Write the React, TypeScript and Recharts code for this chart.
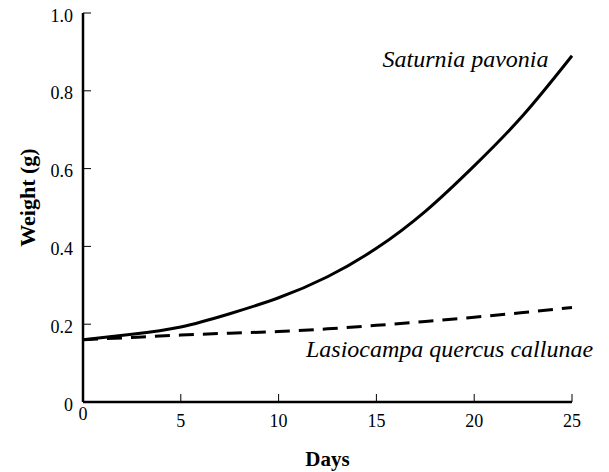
import React from "react";
import { LineChart, Line, XAxis, YAxis, ReferenceDot, Label } from "recharts";

// Days
const days = [0, 2.5, 5, 7.5, 10, 12.5, 15, 17.5, 20, 22.5, 25];
// Saturnia pavonia weight (g)
const saturnia = [0.16, 0.174, 0.193, 0.227, 0.268, 0.322, 0.395, 0.49, 0.607, 0.737, 0.89];
// Lasiocampa quercus callunae weight (g)
const lasiocampa = [0.16, 0.166, 0.172, 0.177, 0.181, 0.188, 0.197, 0.207, 0.218, 0.23, 0.243];

const xTicks = [0, 5, 10, 15, 20, 25];
const yTicks = [0, 0.2, 0.4, 0.6, 0.8, 1.0];
const yTickLabels = ["0", "0.2", "0.4", "0.6", "0.8", "1.0"];

// Series name annotations: [name, day, weight, anchor]
const seriesLabels: [string, number, number, "start" | "end"][] = [
  ["Saturnia pavonia", 23.8, 0.86, "end"],
  ["Lasiocampa quercus callunae", 11.4, 0.116, "start"],
];

const data = days.map((d, i) => ({ day: d, sp: saturnia[i], lq: lasiocampa[i] }));

const FONT = "Liberation Serif, Times New Roman, Tinos, DejaVu Serif, serif";

const XTick = (props: any) => {
  const { x, y, payload } = props;
  const v = payload.value;
  return (
    <text x={x} y={y} dy={v === 0 ? 6 : 13} textAnchor="middle" style={{ fontFamily: FONT, fontSize: 18 }} fill="#000">
      {String(v)}
    </text>
  );
};

const YTick = (props: any) => {
  const { x, y, payload } = props;
  const idx = yTicks.findIndex((t) => Math.abs(t - payload.value) < 1e-9);
  return (
    <text x={x} y={y} dy={8.5} textAnchor="end" style={{ fontFamily: FONT, fontSize: 18 }} fill="#000">
      {idx >= 0 ? yTickLabels[idx] : String(payload.value)}
    </text>
  );
};

export default function App() {
  return (
    <div style={{ position: "absolute", left: 0, top: 0, background: "#fff", fontFamily: FONT }}>
      <LineChart
        width={609}
        height={472}
        data={data}
        margin={{ top: 13, right: 37, bottom: 40, left: 0 }}
        style={{ fontFamily: FONT }}
      >
        <XAxis
          dataKey="day"
          type="number"
          domain={[0, 25]}
          ticks={xTicks}
          height={30}
          tickSize={-8}
          tickMargin={20}
          tick={<XTick />}
          axisLine={{ stroke: "#000", strokeWidth: 2.5 }}
          tickLine={{ stroke: "#000", strokeWidth: 1 }}
        >
          <Label
            content={(p: any) => {
              const vb = p.viewBox || {};
              const cx = (vb.x || 0) + (vb.width || 0) / 2;
              const cy = (vb.y || 0) + (vb.height || 0) + 34;
              return (
                <text
                  x={cx}
                  y={cy}
                  textAnchor="middle"
                  style={{ fontFamily: FONT, fontSize: 21, fontWeight: "bold" }}
                  fill="#000"
                >
                  Days
                </text>
              );
            }}
          />
        </XAxis>
        <YAxis
          type="number"
          domain={[0, 1]}
          ticks={yTicks}
          width={83}
          tickSize={-8}
          tickMargin={18}
          tick={<YTick />}
          axisLine={{ stroke: "#000", strokeWidth: 2.5 }}
          tickLine={{ stroke: "#000", strokeWidth: 1 }}
        >
          <Label
            content={(p: any) => {
              const vb = p.viewBox || {};
              const cx = (vb.x || 0) + 27;
              const cy = (vb.y || 0) + (vb.height || 0) / 2 - 10;
              return (
                <text
                  x={cx}
                  y={cy}
                  transform={`rotate(-90, ${cx}, ${cy})`}
                  textAnchor="middle"
                  dominantBaseline="central"
                  style={{ fontFamily: FONT, fontSize: 22, fontWeight: "bold" }}
                  fill="#000"
                >
                  Weight (g)
                </text>
              );
            }}
          />
        </YAxis>
        <Line
          type="natural"
          dataKey="sp"
          stroke="#000"
          strokeWidth={3}
          dot={false}
          activeDot={false}
          isAnimationActive={false}
        />
        <Line
          type="natural"
          dataKey="lq"
          stroke="#000"
          strokeWidth={3}
          strokeDasharray="15 9"
          dot={false}
          activeDot={false}
          isAnimationActive={false}
        />
        {seriesLabels.map(([name, dx, wy, anchor]) => (
          <ReferenceDot
            key={name}
            x={dx}
            y={wy}
            r={0}
            fill="none"
            stroke="none"
            label={(p: any) => {
              const vb = p.viewBox || {};
              return (
                <text
                  x={vb.x}
                  y={vb.y}
                  textAnchor={anchor}
                  style={{ fontFamily: FONT, fontSize: 24, fontStyle: "italic" }}
                  fill="#000"
                >
                  {name}
                </text>
              );
            }}
          />
        ))}
      </LineChart>
    </div>
  );
}
